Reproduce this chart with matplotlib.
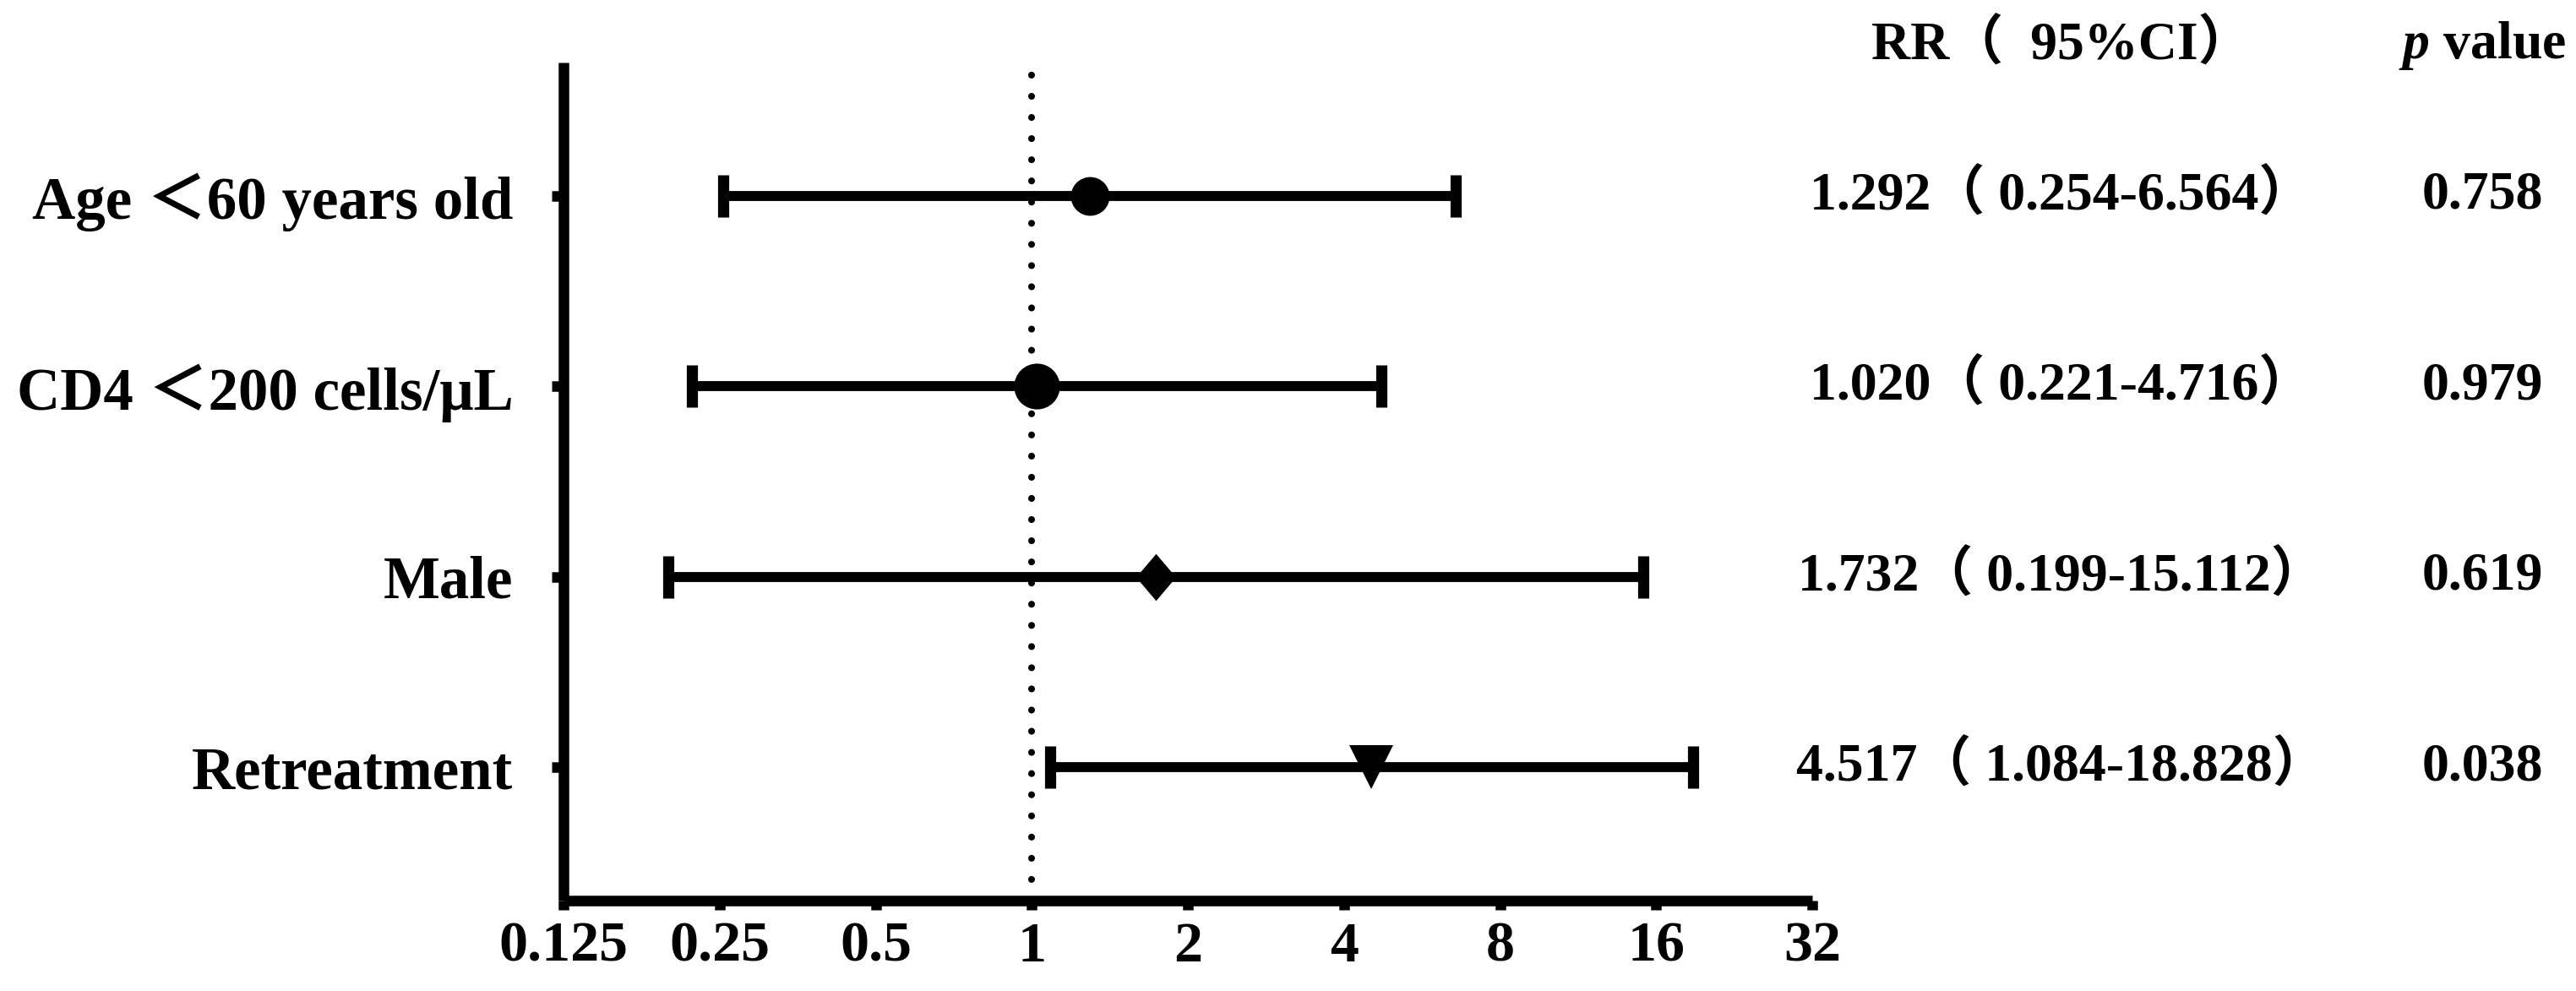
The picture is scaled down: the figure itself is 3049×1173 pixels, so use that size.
import matplotlib
matplotlib.use('Agg')
import matplotlib.pyplot as plt
import matplotlib.transforms as mtrans
from matplotlib.ticker import NullLocator

# ---------------- data ----------------
labels = ["Age ＜60 years old", "CD4 ＜200 cells/μL", "Male", "Retreatment"]
rr = [1.292, 1.020, 1.732, 4.517]
ci_low = [0.254, 0.221, 0.199, 1.084]
ci_high = [6.564, 4.716, 15.112, 18.828]
p_values = ["0.758", "0.979", "0.619", "0.038"]
xticks = [0.125, 0.25, 0.5, 1, 2, 4, 8, 16, 32]
xtick_labels = ["0.125", "0.25", "0.5", "1", "2", "4", "8", "16", "32"]
header_ci = "RR（  95%CI）"
header_p = r"$p$ value"

# ---------------- style ----------------
plt.rcParams['font.family'] = ['Liberation Serif', 'Noto Sans CJK TC', 'DejaVu Sans']
plt.rcParams['font.weight'] = 'bold'
plt.rcParams['mathtext.fontset'] = 'custom'
plt.rcParams['mathtext.it'] = 'Liberation Serif:italic:bold'
plt.rcParams['mathtext.rm'] = 'Liberation Serif:bold'

diamond = [(0, 1), (0.85, 0), (0, -1), (-0.85, 0), (0, 1)]
markers = ['o', 'o', diamond, 'v']
msizes = [33, 39, 40, 38]

W, H = 3049, 1173
fig = plt.figure(figsize=(W / 100, H / 100), dpi=100)
ax_left, ax_right, ax_top, ax_bot = 667, 2145, 74, 1066
ax = fig.add_axes([ax_left / W, 1 - ax_bot / H, (ax_right - ax_left) / W, (ax_bot - ax_top) / H])

ypos = list(range(1, len(labels) + 1))

ax.axvline(1, color='black', lw=5.8, ls=(0, (0.01, 3.1)), dash_capstyle='round', zorder=1)

for i in range(len(labels)):
    ax.errorbar(rr[i], ypos[i],
                xerr=[[rr[i] - ci_low[i]], [ci_high[i] - rr[i]]],
                fmt='none', ecolor='black', elinewidth=8.5, capsize=18, capthick=9.5, zorder=2)
    ax.plot(rr[i], ypos[i], marker=markers[i], ms=msizes[i], color='black',
            mec='black', mew=0, ls='none', zorder=3)

ax.set_xscale('log', base=2)
ax.set_xlim(0.125, 32)
ax.set_xticks(xticks)
ax.set_xticklabels(xtick_labels)
ax.xaxis.set_minor_locator(NullLocator())
ax.set_ylim(4.7, 0.3)
ax.set_yticks(ypos)
ax.set_yticklabels(labels)

for s in ['top', 'right']:
    ax.spines[s].set_visible(False)
for s in ['left', 'bottom']:
    ax.spines[s].set_linewidth(9)
    ax.spines[s].set_capstyle('butt')

ax.tick_params(axis='both', direction='out', width=9, color='black')
ax.tick_params(axis='x', length=8, labelsize=49, pad=10)
ax.tick_params(axis='y', length=10, labelsize=51, pad=33)
for lab in ax.get_xticklabels() + ax.get_yticklabels():
    lab.set_fontweight('bold')

# right-hand table
trans = mtrans.blended_transform_factory(fig.transFigure, ax.transData)
x_ci, x_p = 2440 / W, 2938 / W
fig.text(x_ci, 1 - 54 / H, header_ci, ha='center', va='center', fontsize=46, fontweight='bold')
fig.text(x_p, 1 - 54 / H, header_p, ha='center', va='center', fontsize=46, fontweight='bold')
for i in range(len(labels)):
    txt = f"{rr[i]:.3f}（ {ci_low[i]:.3f}-{ci_high[i]:.3f}）"
    ax.text(x_ci, ypos[i], txt, transform=trans, ha='center', va='center',
            fontsize=46, fontweight='bold', clip_on=False)
    ax.text(x_p, ypos[i], p_values[i], transform=trans, ha='center', va='center',
            fontsize=46, fontweight='bold', clip_on=False)

fig.savefig('out.png', dpi=100)
